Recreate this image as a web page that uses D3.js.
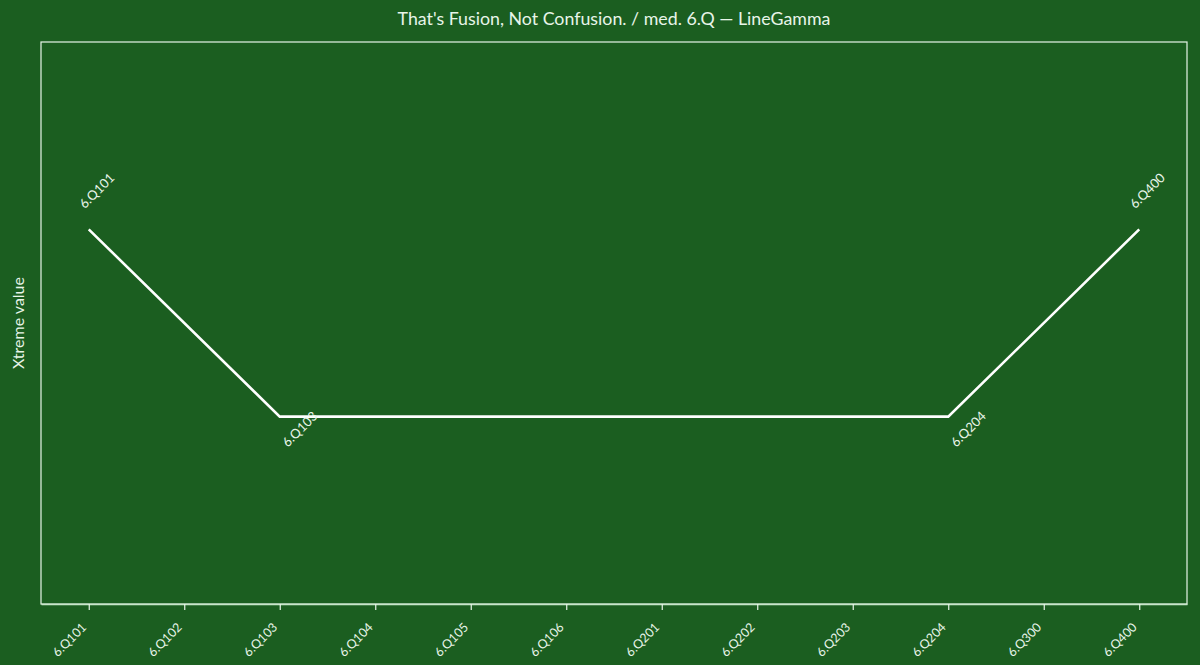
<!DOCTYPE html>
<html><head><meta charset="utf-8">
<script src="https://cdn.jsdelivr.net/npm/d3@7"></script>
<style>html,body{margin:0;padding:0;background:#1b5e20;}svg{display:block;}</style>
</head><body>
<svg id="c" width="1200" height="665"></svg>
<script>
const categories = ["6.Q101","6.Q102","6.Q103","6.Q104","6.Q105","6.Q106","6.Q201","6.Q202","6.Q203","6.Q204","6.Q300","6.Q400"];
const pointCats = ["6.Q101","6.Q103","6.Q204","6.Q400"];
const pointVals = [2, 1, 1, 2];
const yDomain = [0, 3];
const title = "That's Fusion, Not Confusion. / med. 6.Q — LineGamma";
const yLabel = "Xtreme value";

const W = 1200, H = 665;
const m = {l: 41, r: 13, t: 42, b: 61};
const font = "Lato, 'Open Sans', sans-serif";
const fg = "#e8f5e9";
const svg = d3.select("#c");
svg.append("rect").attr("width", W).attr("height", H).attr("fill", "#1b5e20");

const x = d3.scalePoint().domain(categories).range([m.l, W - m.r]).padding(0.5);
const y = d3.scaleLinear().domain(yDomain).range([H - m.b, m.t]);

svg.append("rect").attr("x", m.l).attr("y", m.t).attr("width", W - m.r - m.l).attr("height", H - m.b - m.t)
  .attr("fill", "none").attr("stroke", fg).attr("stroke-width", 1.2);

const xa = svg.append("g").attr("transform", `translate(0,${H - m.b})`)
  .call(d3.axisBottom(x).tickSize(6).tickSizeOuter(0));
xa.select(".domain").attr("stroke", "#c8e6c9").attr("stroke-width", 1.5);
xa.selectAll(".tick line").attr("stroke", fg).attr("stroke-width", 1.2);
xa.selectAll(".tick text").attr("fill", fg).attr("font-family", font).attr("font-size", 12.5)
  .attr("text-anchor", "end").attr("dx", "0").attr("dy", "0").attr("y", null)
  .attr("transform", "translate(-2,24) rotate(-45)");

const data = pointCats.map((c, i) => ({c, v: pointVals[i]}));
const line = d3.line().x(d => x(d.c)).y(d => y(d.v));
svg.append("path").datum(data).attr("d", line).attr("fill", "none").attr("stroke", "#ffffff")
  .attr("stroke-width", 2.6).attr("stroke-linejoin", "miter");

const maxV = d3.max(pointVals);
svg.selectAll("text.pl").data(data).enter().append("text").attr("class", "pl")
  .attr("font-family", font).attr("font-size", 13).attr("fill", fg)
  .attr("transform", d => d.v === maxV
     ? `translate(${x(d.c) - 4},${y(d.v) - 20}) rotate(-45)`
     : `translate(${x(d.c) + 8},${y(d.v) + 31}) rotate(-45)`)
  .text(d => d.c);

svg.append("text").attr("x", (m.l + W - m.r) / 2).attr("y", 25).attr("text-anchor", "middle")
  .attr("font-family", font).attr("font-size", 17.8).attr("fill", fg).text(title);

svg.append("text").attr("transform", `translate(24,${(m.t + H - m.b) / 2}) rotate(-90)`)
  .attr("text-anchor", "middle").attr("font-family", font).attr("font-size", 16).attr("fill", fg).text(yLabel);
</script>
</body></html>
